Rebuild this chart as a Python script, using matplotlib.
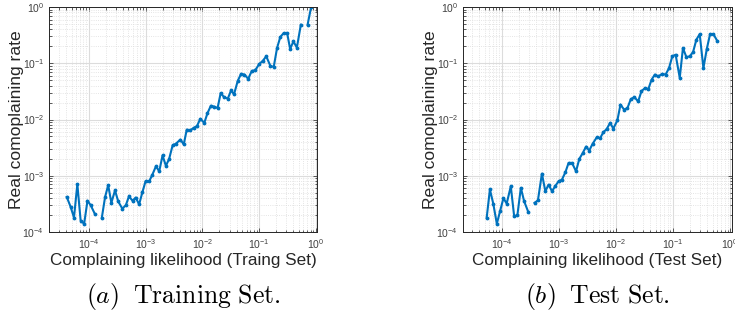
import numpy as np
import matplotlib
matplotlib.use('Agg')
from matplotlib import pyplot as plt
from matplotlib.ticker import LogLocator, NullFormatter

plt.rcParams['font.family'] = ['Liberation Sans', 'DejaVu Sans']
plt.rcParams['mathtext.fontset'] = 'custom'
plt.rcParams['mathtext.rm'] = 'Liberation Sans'
plt.rcParams['mathtext.it'] = 'Liberation Sans:italic'

# training set (nan = break in the line)
train_x = [4.1e-5, 4.8e-5, 5.5e-5, 6.3e-5, 7.2e-5, 8.3e-5, 9.5e-5, 1.08e-4, 1.28e-4, 1.5e-4,
           1.7e-4, 1.94e-4, 2.2e-4, 2.5e-4, 2.9e-4, 3.3e-4, 3.9e-4, 4.5e-4, 5.1e-4, 5.9e-4,
           6.7e-4, 7.7e-4, 8.8e-4, 1.0e-3, 1.16e-3, 1.32e-3, 1.52e-3, 1.74e-3, 1.99e-3, 2.28e-3,
           2.6e-3, 3.0e-3, 3.4e-3, 4.1e-3, 4.7e-3, 5.3e-3, 6.1e-3, 7.0e-3, 8.0e-3, 9.2e-3,
           1.08e-2, 1.23e-2, 1.41e-2, 1.6e-2, 1.85e-2, 2.1e-2, 2.4e-2, 2.8e-2, 3.2e-2, 3.6e-2,
           4.2e-2, 4.8e-2, 5.5e-2, 6.4e-2, 7.4e-2, 8.5e-2, 0.1, 0.116, 0.133, 0.157,
           0.18, 0.206, 0.235, 0.27, 0.31, 0.35, 0.40, 0.46, 0.54, 0.62,
           0.71, 0.82]
train_y = [4.2e-4, 2.8e-4, 1.8e-4, 7.1e-4, 1.6e-4, 1.4e-4, 3.6e-4, 3.0e-4, 2.1e-4, np.nan,
           1.8e-4, 4.2e-4, 6.8e-4, 3.3e-4, 5.5e-4, 3.5e-4, 2.6e-4, 3.0e-4, 4.3e-4, 3.6e-4,
           4.1e-4, 3.1e-4, 5.1e-4, 8.0e-4, 8.0e-4, 1.05e-3, 1.47e-3, 1.2e-3, 2.3e-3, 1.5e-3,
           2.0e-3, 3.5e-3, 3.7e-3, 4.4e-3, 3.6e-3, 6.6e-3, 6.4e-3, 7.1e-3, 7.6e-3, 1.03e-2,
           8.7e-3, 1.3e-2, 1.76e-2, 1.7e-2, 1.6e-2, 2.96e-2, 2.5e-2, 2.35e-2, 3.3e-2, 2.8e-2,
           4.9e-2, 6.5e-2, 6.3e-2, 5.3e-2, 7.3e-2, 7.5e-2, 0.097, 0.111, 0.133, 0.09,
           0.086, 0.187, 0.293, 0.345, 0.345, 0.18, 0.245, 0.19, 0.485, np.nan,
           0.485, 1.0]

# test set
test_x = [5.45e-5, 6.2e-5, 7.1e-5, 8.2e-5, 9.4e-5, 1.07e-4, 1.22e-4, 1.44e-4, 1.65e-4, 1.88e-4,
          2.16e-4, 2.47e-4, 2.9e-4, 3.3e-4, 3.75e-4, 4.3e-4, 5.05e-4, 5.8e-4, 6.6e-4, 7.6e-4,
          8.6e-4, 9.9e-4, 1.13e-3, 1.3e-3, 1.48e-3, 1.7e-3, 2.0e-3, 2.28e-3, 2.6e-3, 3.0e-3,
          3.4e-3, 3.9e-3, 4.6e-3, 5.3e-3, 6.0e-3, 6.9e-3, 7.9e-3, 9.0e-3, 1.06e-2, 1.2e-2,
          1.39e-2, 1.59e-2, 1.82e-2, 2.1e-2, 2.45e-2, 2.8e-2, 3.2e-2, 3.7e-2, 4.2e-2, 4.8e-2,
          5.5e-2, 6.5e-2, 7.4e-2, 8.5e-2, 9.7e-2, 0.111, 0.131, 0.149, 0.171, 0.196,
          0.224, 0.256, 0.293, 0.34, 0.39, 0.445, 0.51, 0.6]
test_y = [1.8e-4, 5.7e-4, 3.2e-4, 1.4e-4, 2.4e-4, 4.0e-4, 3.2e-4, 6.5e-4, 1.9e-4, 2.0e-4,
          6.1e-4, 3.5e-4, 2.3e-4, np.nan, 3.3e-4, 3.65e-4, 1.09e-3, 5.3e-4, 6.95e-4, 5.3e-4,
          6.5e-4, 8.0e-4, 8.5e-4, 1.15e-3, 1.69e-3, 1.69e-3, 1.2e-3, 1.99e-3, 2.5e-3, 3.3e-3,
          2.8e-3, 3.7e-3, 4.8e-3, 4.7e-3, 5.9e-3, 6.8e-3, 8.7e-3, 6.9e-3, 9.7e-3, 1.84e-2,
          1.5e-2, 1.6e-2, 2.3e-2, 2.5e-2, 2.1e-2, 3.2e-2, 3.6e-2, 3.5e-2, 5.1e-2, 6.3e-2,
          5.85e-2, 6.5e-2, 6.3e-2, 8.2e-2, 0.133, 0.142, 0.055, 0.187, 0.129, 0.133,
          0.158, 0.263, 0.33, 0.082, 0.18, 0.33, 0.33, 0.245]

panels = [
    (train_x, train_y, 'Complaining likelihood (Traing Set)', r'$(a)\;\ \mathrm{Training\ Set.}$',
     [0.0667, 0.275, 0.3646, 0.703], (2.0e-5, 1.04)),
    (test_x, test_y, 'Complaining likelihood (Test Set)', r'$(b)\;\ \mathrm{Test\ Set.}$',
     [0.630, 0.275, 0.366, 0.703], (2.1e-5, 1.08)),
]


def main():
    fig = plt.figure(figsize=(7.35, 3.2), dpi=100)
    for xs, ys, xlab, cap, pos, xlim in panels:
        ax = fig.add_axes(pos)
        ax.plot(xs, ys, '.-', color='#0072BD', lw=1.5, ms=3.5)
        ax.set_xscale('log')
        ax.set_yscale('log')
        ax.set_xlim(*xlim)
        ax.set_ylim(1e-4, 1)
        ax.xaxis.set_major_locator(LogLocator(base=10, numticks=10))
        ax.xaxis.set_minor_locator(LogLocator(base=10, subs=np.arange(2, 10), numticks=20))
        ax.xaxis.set_minor_formatter(NullFormatter())
        ax.yaxis.set_minor_formatter(NullFormatter())
        ax.grid(True, which='major', color='#dcdcdc', lw=0.8, ls='-')
        ax.grid(True, which='minor', color='#dcdcdc', lw=0.6, ls=':')
        ax.set_axisbelow(True)
        ax.tick_params(which='both', direction='in', top=True, right=True,
                       colors='#404040', labelsize=7.5, width=0.6)
        ax.tick_params(which='major', length=3)
        ax.tick_params(which='minor', length=1.8)
        for sp in ax.spines.values():
            sp.set_color('#262626')
            sp.set_linewidth(0.7)
        ax.set_xlabel(xlab, fontsize=12.3, color='#262626')
        ax.set_ylabel('Real comoplaining rate', fontsize=12.6, color='#262626')
        ax.xaxis.set_label_coords(0.5, -0.095)
        ax.yaxis.set_label_coords(-0.093, 0.5)
        cx = pos[0] + pos[2] / 2
        fig.text(cx, 0.072, cap, ha='center', va='center', fontsize=18.5, math_fontfamily='cm')
    fig.savefig('out.png', dpi=100)


if __name__ in '__main__':
    main()
